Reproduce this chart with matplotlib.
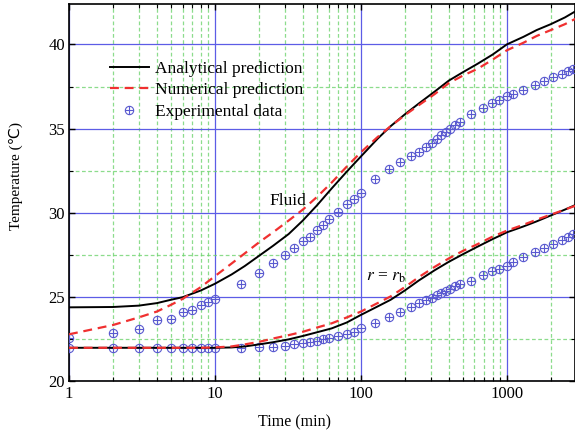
"""Temperature vs time: analytical, numerical and experimental comparison."""

from __future__ import annotations

import matplotlib

matplotlib.use("Agg")
import matplotlib.pyplot as plt
from matplotlib.path import Path
from matplotlib.ticker import FixedLocator, MultipleLocator, NullFormatter

# time axis for the model curves (min)
T_CURVE = [1, 2, 3, 4, 5, 6, 8, 10, 13, 16, 20, 25, 32, 40, 50, 63, 80, 100,
           130, 160, 200, 250, 320, 400, 500, 630, 800, 1000, 1300, 1600,
           2000, 2500, 3000]

FLUID_ANALYTICAL = [24.4, 24.42, 24.5, 24.65, 24.85, 25.0, 25.4, 25.8, 26.35,
                    26.85, 27.45, 28.05, 28.75, 29.55, 30.45, 31.45, 32.45,
                    33.35, 34.4, 35.15, 35.85, 36.5, 37.2, 37.85, 38.35,
                    38.85, 39.4, 40.0, 40.45, 40.85, 41.2, 41.6, 42.0]
FLUID_NUMERICAL = [22.8, 23.35, 23.8, 24.15, 24.55, 24.9, 25.6, 26.25, 27.0,
                   27.6, 28.25, 28.85, 29.55, 30.2, 30.95, 31.8, 32.75, 33.6,
                   34.5, 35.15, 35.8, 36.4, 37.05, 37.7, 38.15, 38.55, 39.1,
                   39.65, 40.1, 40.5, 40.85, 41.2, 41.55]
RB_ANALYTICAL = [22.0, 22.0, 22.0, 22.0, 22.0, 22.0, 22.0, 22.0, 22.02, 22.08,
                 22.2, 22.33, 22.5, 22.7, 22.92, 23.15, 23.5, 23.95, 24.45,
                 24.85, 25.4, 26.0, 26.6, 27.1, 27.55, 28.0, 28.45, 28.85,
                 29.2, 29.5, 29.85, 30.2, 30.5]
RB_NUMERICAL = [22.0, 22.0, 22.0, 22.0, 22.0, 22.0, 22.0, 22.02, 22.08, 22.2,
                22.35, 22.55, 22.75, 22.95, 23.2, 23.45, 23.8, 24.15, 24.65,
                25.05, 25.6, 26.2, 26.8, 27.3, 27.75, 28.15, 28.6, 28.95,
                29.3, 29.6, 29.9, 30.2, 30.45]

# experimental sampling times (min)
T_EXP = [1, 2, 3, 4, 5, 6, 7, 8, 9, 10, 15, 20, 25, 30, 35, 40, 45, 50, 55,
         60, 70, 80, 90, 100, 125, 155, 185, 220, 250, 280, 305, 330, 355,
         380, 410, 440, 475, 570, 690, 790, 890, 1000, 1100, 1300, 1550,
         1800, 2080, 2370, 2630, 2850]
FLUID_EXP = [22.6, 22.85, 23.1, 23.64, 23.7, 24.13, 24.27, 24.53, 24.72,
             24.92, 25.81, 26.46, 27.03, 27.53, 27.92, 28.31, 28.6, 28.96,
             29.26, 29.66, 30.05, 30.54, 30.84, 31.19, 32.0, 32.6, 33.0,
             33.35, 33.6, 33.9, 34.15, 34.4, 34.6, 34.8, 35.0, 35.2, 35.4,
             35.85, 36.25, 36.5, 36.72, 36.95, 37.08, 37.3, 37.58, 37.82,
             38.06, 38.26, 38.4, 38.53]
RB_EXP = [22.0, 22.0, 22.0, 22.0, 22.0, 22.0, 22.0, 22.0, 22.0, 22.0, 22.0,
          22.06, 22.06, 22.12, 22.2, 22.3, 22.35, 22.41, 22.5, 22.56, 22.69,
          22.81, 22.95, 23.15, 23.48, 23.8, 24.13, 24.43, 24.63, 24.82,
          24.96, 25.12, 25.25, 25.37, 25.51, 25.65, 25.77, 25.96, 26.3,
          26.54, 26.7, 26.88, 27.09, 27.38, 27.68, 27.92, 28.18, 28.37,
          28.57, 28.77]

X_MAJOR = [1, 10, 100, 1000]
X_MAJOR_LABELS = ["1", "10", "100", "1000"]
X_MINOR = [m * d for d in (1, 10, 100, 1000) for m in range(2, 10)]

GRID_MAJOR = "#5c5ce6"
GRID_MINOR = "#6fd46f"
MARKER_COLOR = "#5a5ad0"
RED = "#f03030"


def circle_plus_marker() -> Path:
    """Circle with a cross inside, like the original data symbol."""
    circle = Path.unit_circle()
    cross = Path([(-1, 0), (1, 0), (0, -1), (0, 1)],
                 [Path.MOVETO, Path.LINETO, Path.MOVETO, Path.LINETO])
    return Path.make_compound_path(circle, cross)


def main() -> None:
    plt.rcParams["font.family"] = ["Liberation Serif", "DejaVu Sans"]
    plt.rcParams["mathtext.fontset"] = "stix"

    fig = plt.figure(figsize=(5.75, 4.38), dpi=100)
    ax = fig.add_axes([0.12, 0.129, 0.88, 0.862])

    marker = circle_plus_marker()
    exp_style = dict(ls="none", marker=marker, ms=6, mfc="none",
                     mec=MARKER_COLOR, mew=0.8, zorder=3)

    ax.plot(T_CURVE, FLUID_ANALYTICAL, color="black", lw=1.4,
            label="Analytical prediction", zorder=4)
    ax.plot(T_CURVE, FLUID_NUMERICAL, color=RED, lw=1.6, dashes=(4, 2.6),
            label="Numerical prediction", zorder=5)
    ax.plot(T_EXP, FLUID_EXP, label="Experimental data", **exp_style)

    ax.plot(T_CURVE, RB_ANALYTICAL, color="black", lw=1.4, zorder=4)
    ax.plot(T_CURVE, RB_NUMERICAL, color=RED, lw=1.6, dashes=(4, 2.6), zorder=5)
    ax.plot(T_EXP, RB_EXP, **exp_style)

    ax.set_xscale("log")
    ax.set_xlim(1, 2930)
    ax.set_ylim(20, 42.4)
    ax.xaxis.set_major_locator(FixedLocator(X_MAJOR))
    ax.xaxis.set_minor_locator(FixedLocator(X_MINOR))
    ax.xaxis.set_minor_formatter(NullFormatter())
    ax.set_xticklabels(X_MAJOR_LABELS)
    ax.yaxis.set_major_locator(MultipleLocator(5))
    ax.yaxis.set_minor_locator(MultipleLocator(2.5))

    ax.grid(which="major", color=GRID_MAJOR, lw=0.9, ls="-")
    ax.grid(which="minor", color=GRID_MINOR, lw=0.9, ls=(0, (3, 2)), alpha=0.8)
    ax.set_axisbelow(True)

    ax.tick_params(which="both", direction="in", top=True, right=True,
                   labelsize=12, pad=3)
    ax.tick_params(which="major", length=4, width=1)
    ax.tick_params(which="minor", length=3, width=0.8)
    for spine in ax.spines.values():
        spine.set_linewidth(1.2)

    ax.set_xlabel("Time (min)", fontsize=11.5)
    ax.xaxis.set_label_coords(0.445, -0.088)
    ax.set_ylabel("Temperature (\u2103)", fontsize=11)
    ax.yaxis.set_label_coords(-0.091, 0.544)

    ax.text(31.6, 30.69, "Fluid", fontsize=12.5, ha="center", va="center")
    ax.text(108, 26.2, r"$r$ = $r_{\mathrm{b}}$", fontsize=12.5,
            ha="left", va="center")

    ax.legend(loc="upper left", bbox_to_anchor=(0.067, 0.8675), frameon=False,
              fontsize=12.5, handlelength=2.25, handletextpad=0.35,
              labelspacing=0.3, numpoints=1, borderaxespad=0)

    fig.savefig("out.png", dpi=100)
    plt.close(fig)


if __name__ == "__main__":
    main()
